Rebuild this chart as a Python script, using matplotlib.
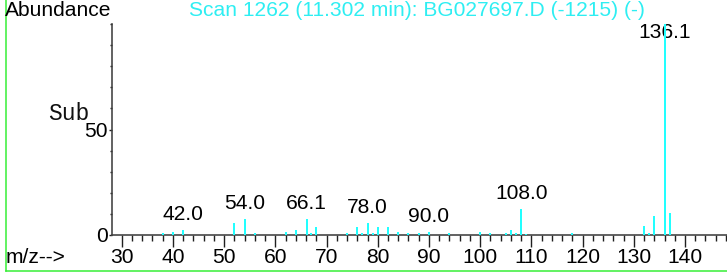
import matplotlib
matplotlib.use("Agg")
import matplotlib.pyplot as plt
from matplotlib.ticker import MultipleLocator, FixedLocator
from matplotlib.lines import Line2D

# ---- data ----
mz = [38, 40, 42.0, 52, 54.0, 56, 62, 64, 66.1, 67, 68, 74, 76, 77, 78.0, 79, 80,
      82, 84, 86, 88, 90.0, 94, 100, 102, 105, 106, 107, 108.0, 109, 118,
      132, 133, 134, 136.1, 137]
abundance = [0.8, 1.3, 2.4, 5.8, 7.4, 0.8, 1.3, 2.4, 7.4, 0.8, 3.9, 0.8, 3.9, 0.8, 5.8, 0.8, 3.9,
             3.9, 1.3, 0.8, 0.8, 1.3, 0.8, 1.3, 0.8, 0.8, 2.4, 0.8, 12.4, 0.5, 0.8,
             4.5, 0.8, 9.2, 100, 10.6]
label_mz = [42.0, 54.0, 66.1, 78.0, 90.0, 108.0, 136.1]
label_text = ["42.0", "54.0", "66.1", "78.0", "90.0", "108.0", "136.1"]
x_ticks = [30, 40, 50, 60, 70, 80, 90, 100, 110, 120, 130, 140]
y_ticks = [0, 50]
title = "Scan 1262 (11.302 min): BG027697.D (-1215) (-)"

DPI = 100
W, H = 727, 273
px = 72.0 / DPI  # points per pixel

plt.rcParams['font.family'] = ['Liberation Sans', 'DejaVu Sans']

fig = plt.figure(figsize=(W / DPI, H / DPI), dpi=DPI)
ax = fig.add_axes([112 / W, 1 - 235 / H, (W - 112) / W, (235 - 24) / H])

peak_color = '#22FFFF'
ax.vlines(mz, 0, abundance, colors=peak_color, linewidth=2 * px, zorder=3)

ax.set_xlim(28.1, 148.2)
ax.set_ylim(0, 100)

for s in ['top', 'right']:
    ax.spines[s].set_visible(False)
for s in ['left', 'bottom']:
    ax.spines[s].set_color('#404040')
    ax.spines[s].set_linewidth(1.6 * px)

fs = 21 * px
ax.xaxis.set_major_locator(FixedLocator(x_ticks))
ax.xaxis.set_minor_locator(MultipleLocator(2))
ax.yaxis.set_major_locator(FixedLocator(y_ticks))
ax.yaxis.set_minor_locator(MultipleLocator(10))
ax.tick_params(axis='x', which='major', length=12 * px, width=1.4 * px, color='#202020',
               labelsize=fs, pad=1)
ax.tick_params(axis='x', which='minor', length=6 * px, width=1.4 * px, color='#202020')
ax.tick_params(axis='y', which='major', length=3 * px, width=1.4 * px, color='#202020',
               labelsize=fs, pad=1)
ax.tick_params(axis='y', which='minor', length=2 * px, width=1.4 * px, color='#202020')
ax.set_xticklabels([str(t) for t in x_ticks])
ax.set_yticklabels([str(t) for t in y_ticks])

# peak labels
for m, t in zip(label_mz, label_text):
    h = abundance[mz.index(m)]
    y = min(h + 2.8, 91.3)
    ax.text(m, y, t, ha='center', va='bottom', fontsize=fs, color='black', zorder=2)

# figure texts
fig.text(5 / W, 1 - 1 / H, "Abundance", ha='left', va='top', fontsize=fs, color='black')
fig.text(417 / W, 1 - 1 / H, title, ha='center', va='top', fontsize=fs, color='#2EEEF2')
fig.text(6 / W, 1 - 267 / H, "m/z-->", ha='left', va='bottom', fontsize=fs, color='black')
fig.text(89 / W, 1 - 120 / H, "Sub", ha='right', va='baseline', fontsize=23 * px,
         family=['Liberation Mono', 'DejaVu Sans Mono'], color='#111111')

# green frame (left and bottom)
fig.add_artist(Line2D([5.5 / W, 5.5 / W], [1 - 271 / H, 1.0], transform=fig.transFigure,
                      color='#33EE33', linewidth=1.5 * px))
fig.add_artist(Line2D([5.5 / W, 1.0], [1 - 271 / H, 1 - 271 / H], transform=fig.transFigure,
                      color='#33EE33', linewidth=1.5 * px))

fig.savefig('out.png', dpi=DPI)
